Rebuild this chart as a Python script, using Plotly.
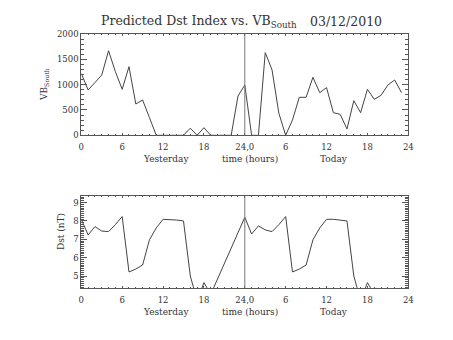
import plotly.graph_objects as go

# Hourly samples: 0-23 = yesterday, 24-47 = today
hours = list(range(48))

vb_south = [1220, 895, 1040, 1190, 1670, 1257, 908, 1355, 618, 697, 350, 0,
            0, 0, 0, 0, 140, 0, 150, 0, 0, 0, 0, 776,
            993, 0, 0, 1632, 1290, 434, 0, 303, 750, 750, 1145, 842,
            941, 447, 414, 125, 684, 447, 908, 711, 789, 993, 1092, 842]

dst = [8.09, 7.24, 7.69, 7.45, 7.42, 7.8, 8.24, 5.22, 5.38, 5.6, 6.97, 7.62,
       8.09, 8.09, 8.05, 8.0, 5.0, 3.67, 4.64, 4.0, None, None, None, None,
       8.2, 7.29, 7.73, 7.51, 7.42, 7.8, 8.24, 5.22, 5.38, 5.6, 6.97, 7.62,
       8.09, 8.09, 8.05, 8.0, 5.0, 3.67, 4.64, 4.0, None, None, None, None]

tick_vals = [0, 6, 12, 18, 24, 30, 36, 42, 48]
tick_text = ["0", "6", "12", "18", "24,0", "6", "12", "18", "24"]

W, H = 453, 340
FONT = "DejaVu Serif"
INK = "#333333"
AXIS = "#555555"

def px(x):
    return x / W

def py(y):
    return 1 - y / H

fig = go.Figure()
fig.add_trace(go.Scatter(x=hours, y=vb_south, mode="lines", xaxis="x", yaxis="y",
                         line=dict(color="#444444", width=1), showlegend=False))
fig.add_trace(go.Scatter(x=hours, y=dst, mode="lines", xaxis="x2", yaxis="y2",
                         connectgaps=True,
                         line=dict(color="#444444", width=1), showlegend=False))

xdom = [px(81.3), px(408.3)]
common_x = dict(range=[0, 48], domain=xdom, tickmode="array", tickvals=tick_vals,
                ticktext=tick_text, ticks="inside", ticklen=2, tickcolor=AXIS,
                showline=True, linecolor=AXIS, linewidth=1, mirror="allticks",
                showgrid=False, zeroline=False, ticklabelstandoff=3,
                automargin=False,
                tickfont=dict(family=FONT, size=8.5, color=INK),
                minor=dict(dtick=1, ticks="inside", ticklen=1, tickcolor=AXIS))
common_y = dict(ticks="inside", ticklen=6, tickcolor=AXIS, showline=True,
                linecolor=AXIS, linewidth=1, mirror="allticks", showgrid=False,
                zeroline=False, automargin=False,
                tickfont=dict(family=FONT, size=8.5, color=INK))

fig.update_layout(
    template="none",
    width=W, height=H, margin=dict(l=0, r=0, t=0, b=0, pad=0),
    paper_bgcolor="white", plot_bgcolor="white",
    xaxis=dict(**common_x, anchor="y"),
    yaxis=dict(**common_y, domain=[py(135.3), py(34)], range=[0, 2000], dtick=500,
               minor=dict(dtick=100, ticks="inside", ticklen=3, tickcolor=AXIS),
               anchor="x"),
    xaxis2=dict(**common_x, anchor="y2"),
    yaxis2=dict(**common_y, domain=[py(288.3), py(196)], range=[4.33, 9.36], dtick=1,
                minor=dict(dtick=0.1, ticks="inside", ticklen=3, tickcolor=AXIS),
                anchor="x2"),
)

# Day boundary marker
for xr, yr in (("x", "y domain"), ("x2", "y2 domain")):
    fig.add_shape(type="line", xref=xr, yref=yr, x0=24, x1=24, y0=0, y1=1,
                  line=dict(color="#777777", width=1))

def label(text, x, y, size=9, angle=0, xanchor="center"):
    fig.add_annotation(text=text, x=px(x), y=py(y), xref="paper", yref="paper",
                       showarrow=False, xanchor=xanchor, yanchor="middle",
                       textangle=angle, borderpad=0,
                       font=dict(family=FONT, size=size, color=INK))

label("Predicted Dst Index vs. VB<sub>South</sub>", 100, 22, size=12.5, xanchor="left")
label("03/12/2010", 309, 21, size=12.5, xanchor="left")

for base in (158.5, 311.5):
    label("Yesterday", 166, base)
    label("time (hours)", 250, base)
    label("Today", 334, base)

label("VB<sub>South</sub>", 44, 85, angle=-90)
label("Dst (nT)", 61, 232, angle=-90)

fig.write_html("out.html")
